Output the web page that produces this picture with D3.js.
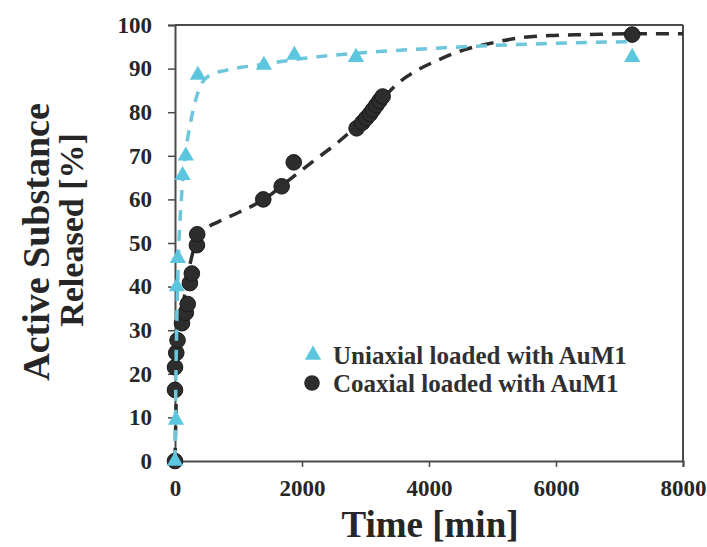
<!DOCTYPE html>
<html>
<head>
<meta charset="utf-8">
<script src="https://cdn.jsdelivr.net/npm/d3@7"></script>
<style>
  html, body { margin: 0; padding: 0; background: #fff; }
  svg { display: block; }
  text { font-family: "Liberation Serif", "Times New Roman", serif; font-weight: bold; }
</style>
</head>
<body>
<svg id="chart" width="707" height="547"></svg>
<script>
// ---- data ----
const xTicks = [0, 2000, 4000, 6000, 8000];
const yTicks = [0, 10, 20, 30, 40, 50, 60, 70, 80, 90, 100];

const seriesNames = ["Uniaxial loaded with AuM1", "Coaxial loaded with AuM1"];

// Uniaxial (triangles)
const uniTime = [0, 15, 30, 45, 120, 170, 360, 1400, 1880, 2850, 7200];
const uniRel  = [0, 9.4, 40, 46.5, 65.5, 70, 88.5, 90.8, 93.1, 92.6, 92.6];

// Coaxial (circles)
const coTime = [0, 0, 0, 20, 40, 110, 170, 200, 235, 265, 345, 350, 1390, 1680, 1870,
                2860, 2950, 3010, 3070, 3120, 3170, 3220, 3270, 7200];
const coRel  = [0, 16.3, 21.5, 24.8, 27.7, 31.6, 34, 36, 40.8, 43, 49.5, 52, 60, 63, 68.5,
                76.3, 77.6, 78.6, 79.6, 80.6, 81.6, 82.6, 83.6, 97.8];

// Fitted (dashed) curves
const uniFitTime = [0, 20, 50, 100, 170, 250, 400, 550, 800, 1400, 2000, 3000, 4000, 5000, 6000, 7200];
const uniFitRel  = [0, 25, 45, 60, 71, 78, 86, 88.5, 89.6, 91, 92.3, 93.7, 94.6, 95.3, 95.8, 96.2];

const coFitTime = [0, 30, 80, 150, 250, 400, 700, 1000, 1400, 1800, 2200, 2600, 2900, 3200, 3500,
                   3800, 4150, 4550, 5000, 5400, 5900, 6500, 7200, 8000];
const coFitRel  = [0, 20, 30, 38, 46, 52, 55, 57, 60, 64.5, 69, 73.5, 77.5, 82, 86.5,
                   89.5, 92, 94.3, 95.9, 97, 97.6, 97.8, 98, 98];

// ---- layout ----
const svg = d3.select("#chart");
const L = 175, R = 683, T = 25, B = 461;
const x = d3.scaleLinear().domain([0, 8000]).range([L, R]);
const y = d3.scaleLinear().domain([0, 100]).range([B, T]);

const blue = "#5cc6de";
const blueLine = "#6ec6da";
const dark = "#2d2d2d";
const textCol = "#262626";
const axisCol = "#4a4a4a";

// frame (top and right)
svg.append("line").attr("x1", L).attr("x2", R).attr("y1", T).attr("y2", T)
  .attr("stroke", axisCol).attr("stroke-width", 2);
svg.append("line").attr("x1", R).attr("x2", R).attr("y1", T).attr("y2", B)
  .attr("stroke", axisCol).attr("stroke-width", 2);

// axes
const xAxis = svg.append("g").attr("transform", `translate(0,${B})`)
  .call(d3.axisBottom(x).tickValues(xTicks).tickSize(6).tickPadding(8).tickFormat(d3.format("d")));
const yAxis = svg.append("g").attr("transform", `translate(${L},0)`)
  .call(d3.axisLeft(y).tickValues(yTicks).tickSize(7).tickPadding(16).tickFormat(d3.format("d")));
[xAxis, yAxis].forEach(g => {
  g.select(".domain").attr("stroke", axisCol).attr("stroke-width", 2);
  g.selectAll(".tick line").attr("stroke", axisCol).attr("stroke-width", 1.5);
  g.selectAll(".tick text").attr("fill", textCol).style("font-size", "23px")
    .style("font-family", "'Liberation Serif', 'Times New Roman', serif").style("font-weight", "bold");
});
xAxis.selectAll(".tick text").attr("dy", "0.9em");

// lines
const line = d3.line().x(d => x(d[0])).y(d => y(d[1])).curve(d3.curveMonotoneX);
const coFit = coFitTime.map((t, i) => [t, coFitRel[i]]);
const uniFit = uniFitTime.map((t, i) => [t, uniFitRel[i]]);

svg.append("path").datum(coFit).attr("d", line)
  .attr("fill", "none").attr("stroke", dark).attr("stroke-width", 3.5)
  .attr("stroke-dasharray", "13,9");

const co = coTime.map((t, i) => [t, coRel[i]]);
svg.append("g").selectAll("circle").data(co).join("circle")
  .attr("cx", d => x(d[0])).attr("cy", d => y(d[1])).attr("r", 7.8)
  .attr("fill", dark).attr("stroke", "#1a1a1a").attr("stroke-width", 1);

svg.append("path").datum(uniFit).attr("d", line)
  .attr("fill", "none").attr("stroke", blueLine).attr("stroke-width", 3.5)
  .attr("stroke-dasharray", "11,9");

const tri = d3.symbol().type(d3.symbolTriangle).size(115);
const uni = uniTime.map((t, i) => [t, uniRel[i]]);
svg.append("g").selectAll("path").data(uni).join("path")
  .attr("d", tri)
  .attr("transform", d => `translate(${x(d[0])},${y(d[1])})`)
  .attr("fill", blue);

// legend
const lg = svg.append("g");
lg.append("path").attr("d", tri).attr("transform", "translate(313,355)").attr("fill", blue);
lg.append("circle").attr("cx", 312).attr("cy", 383).attr("r", 7.8).attr("fill", dark);
lg.selectAll("text").data(seriesNames).join("text")
  .attr("x", 333).attr("y", (d, i) => 355 + i * 28).attr("dy", "0.35em")
  .attr("fill", "#303030").style("font-size", "25px").text(d => d);

// axis titles
svg.append("text").attr("x", 430).attr("y", 537).attr("text-anchor", "middle")
  .attr("fill", textCol).style("font-size", "37px").text("Time [min]");
svg.append("text").attr("transform", "translate(49,242) rotate(-90)").attr("text-anchor", "middle")
  .attr("fill", textCol).style("font-size", "38px").text("Active Substance");
svg.append("text").attr("transform", "translate(83,230) rotate(-90)").attr("text-anchor", "middle")
  .attr("fill", textCol).style("font-size", "34px").text("Released [%]");
</script>
</body>
</html>
